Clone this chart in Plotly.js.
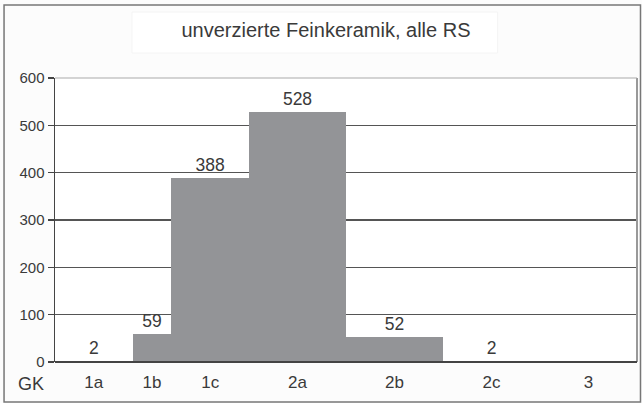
<!DOCTYPE html>
<html>
<head>
<meta charset="utf-8">
<script src="https://cdn.plot.ly/plotly-3.0.1.min.js"></script>
<style>html,body{margin:0;padding:0;background:#fff}#chart{width:642px;height:403px}</style>
</head>
<body>
<div id="chart"></div>
<script>
// Data
const chartTitle = "unverzierte Feinkeramik, alle RS";
const categories = ["1a", "1b", "1c", "2a", "2b", "2c", "3"];
const counts = [2, 59, 388, 528, 52, 2, 0];
const binWidths = [0.8, 0.4, 0.8, 1, 1, 1, 1];
const axisLabel = "GK";

// derive bar centres from cumulative bin widths
const centers = [];
let acc = 0;
binWidths.forEach(w => { centers.push(acc + w / 2); acc += w; });
const total = acc;

const FONT = "Liberation Sans, Arial, sans-serif";

const trace = {
  type: "bar",
  x: centers,
  y: counts,
  width: binWidths,
  marker: { color: "#939497", line: { width: 0 } },
  text: counts.map(v => v > 0 ? String(v) : ""),
  textposition: "outside",
  cliponaxis: false,
  textfont: { family: FONT, size: 17.5, color: "#3a3a3a" },
  hoverinfo: "x+y"
};

const layout = {
  width: 642, height: 403,
  margin: { l: 55, r: 4.5, t: 78, b: 41 },
  paper_bgcolor: "#fcfcfc",
  plot_bgcolor: "#ffffff",
  showlegend: false,
  bargap: 0,
  title: {
    text: chartTitle,
    font: { family: FONT, size: 20, color: "#3a3a3a" },
    x: 326 / 642, xref: "container", xanchor: "center",
    y: 0.926, yref: "container", yanchor: "middle"
  },
  xaxis: {
    range: [0, total],
    tickvals: centers,
    ticktext: categories,
    ticks: "",
    ticklabelstandoff: 8,
    showgrid: false,
    zeroline: false,
    showline: false,
    tickfont: { family: FONT, size: 17, color: "#3a3a3a" },
    fixedrange: true
  },
  yaxis: {
    range: [0, 600],
    dtick: 100,
    ticks: "outside",
    ticklen: 6,
    tickwidth: 1.2,
    tickcolor: "#444",
    showline: true,
    linecolor: "#444",
    linewidth: 1.5,
    showgrid: true,
    gridcolor: "#555",
    gridwidth: 1.5,
    zeroline: false,
    tickfont: { family: FONT, size: 15, color: "#3a3a3a" },
    fixedrange: true
  },
  annotations: [
    {
      text: axisLabel, xref: "paper", yref: "paper",
      x: -0.042, y: 0, yshift: -22, xanchor: "center", yanchor: "middle",
      showarrow: false, font: { family: FONT, size: 18, color: "#3a3a3a" }
    }
  ],
  shapes: [
    // outer chart frame
    { type: "rect", xref: "paper", yref: "paper", layer: "below",
      x0: -51 / 582.5, x1: 1.006, y0: -40 / 284, y1: 1 + 73 / 284,
      line: { color: "#777", width: 1.5 }, fillcolor: "rgba(0,0,0,0)" },
    // title box
    { type: "rect", xref: "paper", yref: "paper", layer: "below",
      x0: (132 - 55) / 582.5, x1: (498 - 55) / 582.5,
      y0: 1 + 25 / 284, y1: 1 + 66 / 284,
      line: { color: "#f4f4f4", width: 1 }, fillcolor: "#ffffff" },
    // plot area right/top border
    { type: "line", xref: "paper", yref: "paper", x0: 1, x1: 1, y0: 0, y1: 1,
      line: { color: "#999", width: 2 } },
    { type: "line", xref: "paper", yref: "paper", x0: 0, x1: 1, y0: 1, y1: 1,
      line: { color: "#aaa", width: 1 } },
    // baseline
    { type: "line", xref: "paper", yref: "paper", x0: 0, x1: 1, y0: 0, y1: 0,
      line: { color: "#444", width: 2.2 } }
  ]
};

Plotly.newPlot("chart", [trace], layout, { displayModeBar: false, staticPlot: true });
</script>
</body>
</html>
